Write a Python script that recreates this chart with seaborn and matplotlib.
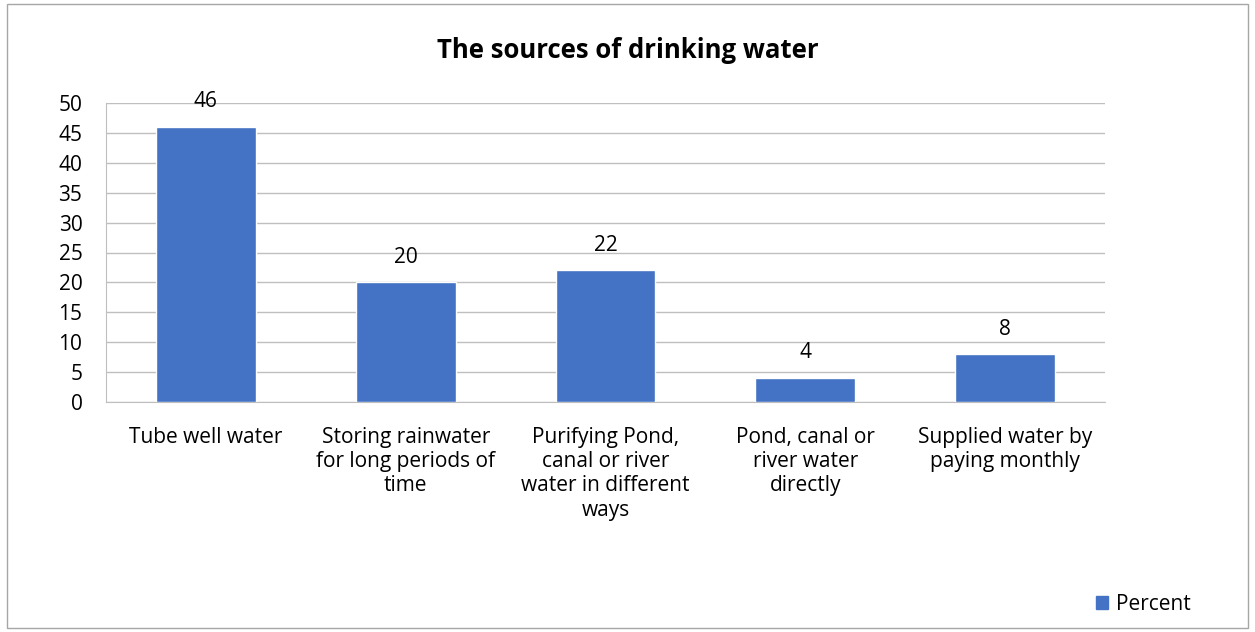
import matplotlib
matplotlib.use("Agg")
import matplotlib.pyplot as plt
import matplotlib.patches as mpatches
import seaborn as sns
import pandas as pd

categories = [
    "Tube well water",
    "Storing rainwater\nfor long periods of\ntime",
    "Purifying Pond,\ncanal or river\nwater in different\nways",
    "Pond, canal or\nriver water\ndirectly",
    "Supplied water by\npaying monthly",
]
percent = [46, 20, 22, 4, 8]
yticks = [0, 5, 10, 15, 20, 25, 30, 35, 40, 45, 50]

bar_color = "#4472C4"
grid_color = "#BFBFBF"

sns.set_style("white")
plt.rcParams["font.family"] = ["Open Sans", "DejaVu Sans"]
plt.rcParams["text.color"] = "black"

data = pd.DataFrame({"Source": categories, "Percent": percent})

fig = plt.figure(figsize=(12.55, 6.32), dpi=100)
ax = fig.add_axes([106 / 1255, 1 - 402 / 632, 999 / 1255, 299 / 632])

sns.barplot(data=data, x="Source", y="Percent", color=bar_color, width=0.5,
            saturation=1, ax=ax, zorder=3)

ax.set_ylim(0, 50)
ax.set_yticks(yticks)
ax.set_xlim(-0.5, len(categories) - 0.5)
ax.yaxis.grid(True, color=grid_color, linewidth=1, zorder=0)
ax.set_axisbelow(True)
for side in ["top", "right"]:
    ax.spines[side].set_visible(False)
ax.spines["left"].set_color(grid_color)
ax.spines["bottom"].set_color(grid_color)
ax.tick_params(axis="both", length=0, labelsize=15, colors="black")
ax.tick_params(axis="y", pad=17)
ax.tick_params(axis="x", pad=18)
ax.set_xlabel("")
ax.set_ylabel("")
for lbl in ax.get_xticklabels():
    lbl.set_linespacing(1.2)
    lbl.set_verticalalignment("top")

for i, v in enumerate(percent):
    ax.text(i, v + 4.2, str(v), ha="center", va="center", fontsize=15,
            color="black")

fig.text(0.5, 1 - 50 / 632, "The sources of drinking water", ha="center",
         va="center", fontsize=18.5, fontweight="bold", color="black")

handle = mpatches.Patch(color=bar_color, label="Percent")
fig.legend(handles=[handle], loc="center", bbox_to_anchor=(1143 / 1255, 1 - 604 / 632),
           frameon=False, fontsize=15, handlelength=0.6, handleheight=0.6,
           handletextpad=0.35)

border = mpatches.Rectangle((7 / 1255, 4 / 632), 1241 / 1255, 624 / 632,
                            transform=fig.transFigure, fill=False,
                            edgecolor="#A6A6A6", linewidth=1)
fig.patches.append(border)

fig.savefig("out.png", dpi=100)
